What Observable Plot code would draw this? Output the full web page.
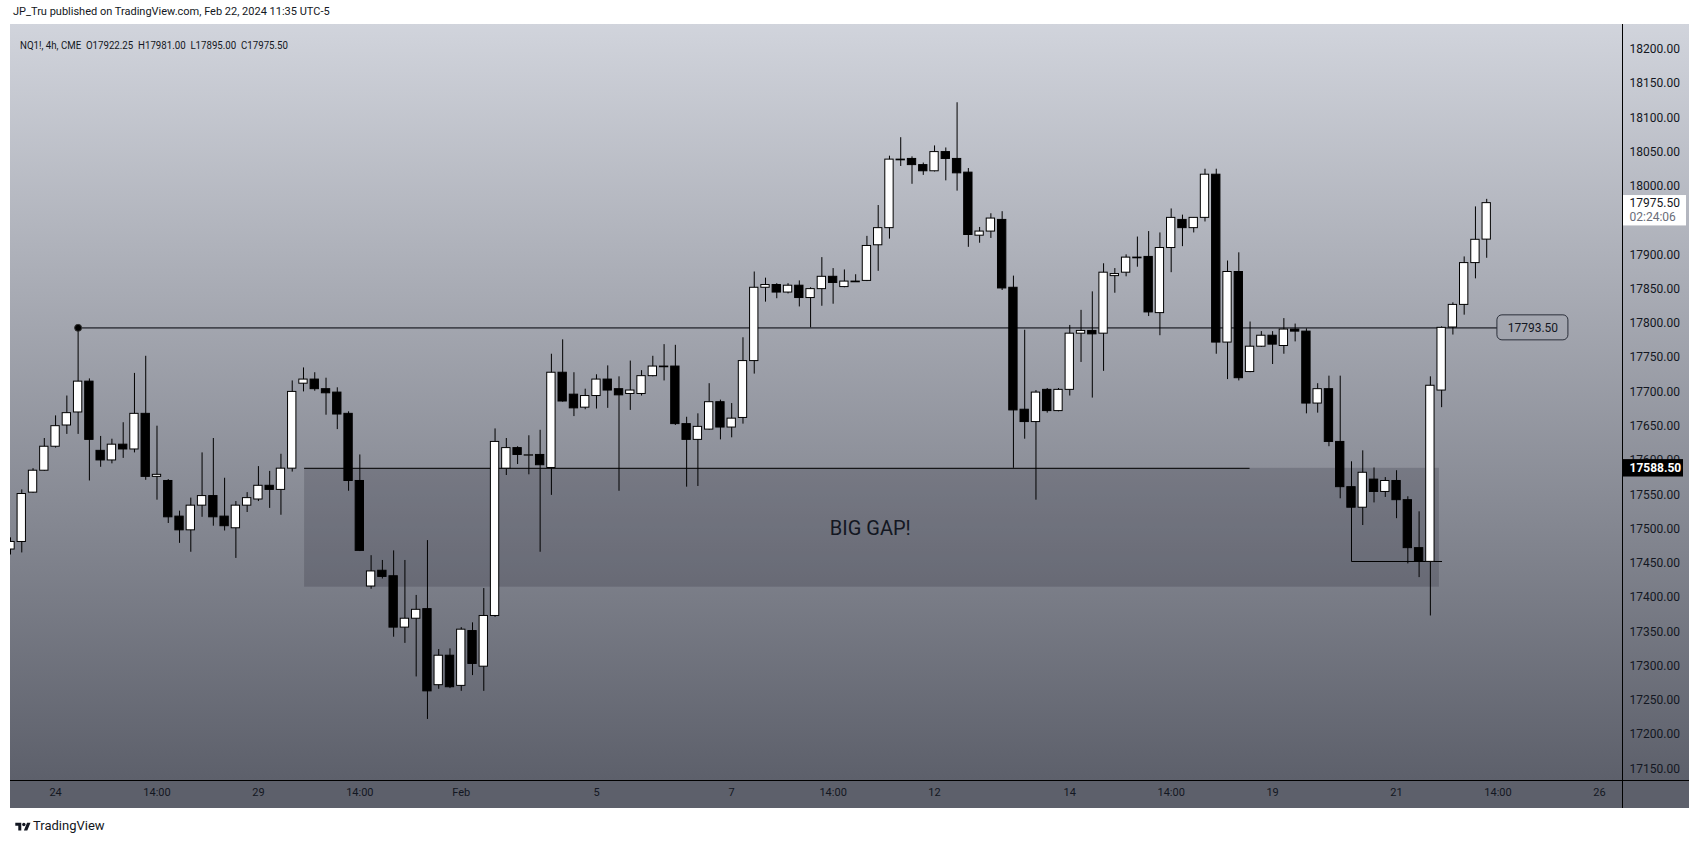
<!DOCTYPE html>
<html><head><meta charset="utf-8">
<script src="https://cdn.jsdelivr.net/npm/d3@7"></script>
<script src="https://cdn.jsdelivr.net/npm/@observablehq/plot@0.6"></script>
<style>
html,body{margin:0;padding:0;background:#fff;width:1699px;height:844px;overflow:hidden;font-family:Roboto,"Liberation Sans",sans-serif;}
#top{height:24px;position:relative;}
#top span{position:absolute;left:13px;top:5px;font-size:11px;color:#131722;white-space:nowrap;}
#chart{height:784px;}
#foot{height:36px;position:relative;}
#foot svg{position:absolute;left:15px;top:13px;}
#foot span{position:absolute;left:33px;top:10px;font-size:13px;color:#131722;}
</style></head><body>
<div id="top"><span>JP_Tru published on TradingView.com, Feb 22, 2024 11:35 UTC-5</span></div>
<div id="chart"></div>
<div id="foot"><svg width="16" height="12" viewBox="0 0 36 28"><path d="M14 22H7V11H0V4h14v18zM28 22h-8l7.5-18h8L28 22z" fill="#131722"/><circle cx="20" cy="8" r="4" fill="#131722"/></svg><span>TradingView</span></div>
<script>
// ---- data: 4h candles, NQ1! (index 0 = first visible bar) ----
const opens = [17470,17481,17553,17585,17620,17651,17670,17715,17614,17600,17623,17616,17668,17576,17570,17518,17498,17534,17548,17518,
17501,17534,17543,17563,17557,17588,17712,17718,17704,17699,17668,17570,17416,17439,17431,17356,17369,17383,17272,17315,
17271,17351,17299,17373,17588,17618,17607,17608,17589,17728,17696,17677,17694,17718,17704,17697,17697,17723,17736,17737,
17653,17630,17645,17685,17648,17662,17745,17852,17856,17845,17855,17837,17850,17868,17853,17860,17862,17914,17939,18038,
18040,18031,18022,18050,18040,18020,17928,17934,17951,17852,17674,17656,17703,17672,17703,17785,17789,17785,17869,17874,
17895,17897,17815,17910,17951,17939,17954,18017,17772,17875,17729,17766,17782,17767,17791,17788,17683,17704,17627,17561,
17531,17572,17554,17570,17542,17472,17452,17702,17794,17827,17888,17922.25];
const highs = [17487,17557,17588,17632,17665,17694,17793.5,17719,17635,17631,17655,17727,17752,17650,17572,17526,17545,17611,17632,17574,
17540,17553,17591,17584,17609,17716,17735,17728,17720,17706,17671,17608,17461,17454,17468,17454,17403,17483,17324,17325,
17356,17363,17413,17646,17632,17620,17636,17644,17755,17776,17728,17704,17725,17738,17722,17745,17731,17752,17769,17768,
17663,17668,17712,17688,17683,17779,17875,17866,17858,17858,17862,17852,17896,17880,17878,17871,17927,17972,18044,18071,
18043,18034,18059,18056,18122,18026,17940,17960,17963,17869,17790,17702,17705,17705,17797,17819,17846,17887,17880,17900,
17926,17934,17932,17967,17958,17954,18025,18025,17891,17903,17802,17788,17788,17807,17799,17792,17712,17723,17723,17598,
17614,17589,17575,17585,17547,17525,17722,17795,17830,17897,17970,17981];
const lows = [17462,17465,17552,17584,17618,17638,17638,17570,17590,17595,17603,17611,17571,17542,17508,17479,17466,17517,17504,17497,
17457,17524,17540,17530,17520,17583,17700,17701,17666,17645,17555,17467,17412,17427,17342,17333,17284,17222,17266,17267,
17263,17286,17263,17371,17578,17594,17579,17466,17549,17685,17664,17674,17675,17676,17555,17673,17694,17722,17716,17651,
17561,17562,17644,17630,17633,17653,17726,17831,17836,17843,17824,17793.5,17825,17828,17852,17860,17861,17876,17923,18029,
18003,18016,18021,18008,17993,17911,17917,17924,17848,17588.5,17631,17542,17669,17671,17694,17743,17691,17730,17844,17868,
17882,17810,17782,17874,17912,17932,17948,17755,17718,17716,17728,17765,17740,17755,17773,17668,17669,17620,17544,17530,
17505,17538,17546,17515,17449,17429,17373,17677,17783,17812,17865,17895];
const closes = [17481,17551,17585,17620,17650,17669,17715,17630,17600,17623,17616,17668,17576,17579,17517,17498,17534,17548,17517,17504,
17534,17545,17563,17557,17588,17700,17718,17704,17698,17667,17570,17468,17438,17430,17356,17369,17382,17263,17315,17269,
17353,17303,17373,17627,17618,17608,17607.5,17593,17728,17686,17676,17694,17718,17702,17695,17702,17723,17737,17737,17653,
17630,17649,17685,17648,17661,17745,17852,17856,17845,17855,17837,17850,17868,17859,17861,17861,17913,17939,18039,18039,
18031,18022,18050,18040,18019,17929,17934,17953,17851,17673,17656,17699,17672,17703,17785,17789,17784,17874,17872,17896,
17896,17816,17910,17954,17939,17954,18017,17772,17875,17720,17766,17782,17769,17791,17788,17683,17704,17627,17561,17531,
17582,17554,17570,17542,17472,17452,17709,17793.5,17827,17888,17922,17975.5];

const xTickIndex  = [4, 13, 22, 31, 40, 52, 64, 73, 82, 94, 103, 112, 123, 132, 141];
const xTickLabels = ["24","14:00","29","14:00","Feb","5","7","14:00","12","14","14:00","19","21","14:00","26"];
const yTicks = [17150,17200,17250,17300,17350,17400,17450,17500,17550,17600,17650,17700,17750,17800,17850,17900,17950,18000,18050,18100,18150,18200];

// drawings (bar index / price units)
const resistance = [{price: 17793.5, from: 6, to: 131.95}];
const resistanceLabel = [{from: 131.95, to: 138.25, mid: 135.1, price: 17793.5, text: "17793.50"}];
const gapZone = [{from: 26.1, to: 126.8, low: 17415, high: 17588.5}];
const gapLine = [{price: 17588.5, from: 26.1, to: 110}];
const bracketX = [119, 119, 127];
const bracketY = [17531, 17452.5, 17452.5];
const gapNote = [{x: 76.3, y: 17500, text: "BIG GAP!"}];
const markedPrice = [{price: 17588.5, text: "17588.50"}];
const lastPrice = [{price: 17975.5, text: "17975.50", timer: "02:24:06"}];

// ---- build ----
const candles = opens.map((o, i) => ({i, open: o, high: highs[i], low: lows[i], close: closes[i]}));
const up = candles.filter(d => d.close >= d.open);
const down = candles.filter(d => d.close < d.open);
const last = candles[candles.length - 1];
const header = `NQ1!, 4h, CME\u00a0\u00a0O${last.open.toFixed(2)}\u00a0\u00a0H${last.high.toFixed(2)}\u00a0\u00a0L${last.low.toFixed(2)}\u00a0\u00a0C${last.close.toFixed(2)}`;

const W = 1699, H = 784, mL = 10, mR = 77, mT = 0, mB = 28;
const xDomain = [0, 143.05];
const yDomain = [17132.9, 18236.2];
const ppx = (yDomain[1] - yDomain[0]) / (H - mT - mB);   // price per pixel
const ipx = (xDomain[1] - xDomain[0]) / (W - mL - mR);    // bar index per pixel
const xEnd = xDomain[1];

// like the platform, hide axis ticks covered by the live price label
const shownTicks = yTicks.filter(t => !lastPrice.some(p => t < p.price && p.price - t < 22.8 * ppx + 6 * ppx));

const plot = Plot.plot({
  width: W, height: H,
  marginLeft: mL, marginRight: mR, marginTop: mT, marginBottom: mB,
  x: {domain: xDomain, axis: null},
  y: {domain: yDomain, axis: null},
  style: {background: "transparent", fontFamily: "Roboto, 'Liberation Sans', sans-serif", color: "#131722"},
  marks: [
    Plot.rect(gapZone, {x1: "from", x2: "to", y1: "low", y2: "high", fill: "rgb(30,32,44)", fillOpacity: 0.2}),
    Plot.ruleY(gapLine, {y: "price", x1: "from", x2: "to", stroke: "#000", strokeWidth: 1}),
    Plot.ruleY(resistance, {y: "price", x1: "from", x2: "to", stroke: "#45474f", strokeWidth: 1.7}),
    Plot.line(bracketX.map((x, k) => ({x, y: bracketY[k]})), {x: "x", y: "y", stroke: "#000", strokeWidth: 1}),
    Plot.ruleX(candles, {x: "i", y1: "low", y2: "high", stroke: "#000", strokeWidth: 1, clip: true}),
    Plot.rect(down, {x1: d => d.i - 0.37, x2: d => d.i + 0.37, y1: "open", y2: "close", fill: "#000", stroke: "#000", strokeWidth: 1, clip: true}),
    Plot.rect(up, {x1: d => d.i - 0.37, x2: d => d.i + 0.37, y1: "open", y2: "close", fill: "#fff", stroke: "#000", strokeWidth: 1, clip: true}),
    Plot.dot(resistance, {x: "from", y: "price", r: 3.5, fill: "#000", stroke: "#333", strokeWidth: 1}),
    Plot.text(gapNote, {x: "x", y: "y", text: "text", fontSize: 20, fill: "#131722"}),
    Plot.rect(resistanceLabel, {x1: "from", x2: "to", y1: d => d.price - 12.5 * ppx, y2: d => d.price + 12.5 * ppx, rx: 5, fill: "none", stroke: "#2a2e39", strokeWidth: 1}),
    Plot.text(resistanceLabel, {x: "mid", y: "price", text: "text", fontSize: 12, fill: "#131722"}),
    Plot.text([header], {frameAnchor: "top-left", dx: 9.5, dy: 17, fontSize: 11, fill: "#131722", textAnchor: "start"}),
    Plot.axisY(shownTicks, {anchor: "right", tickSize: 0, tickPadding: 7, tickFormat: d => d.toFixed(2), fontSize: 12, label: null}),
    Plot.text(xTickIndex.map((t, k) => ({i: t, label: xTickLabels[k]})), {x: "i", text: "label", frameAnchor: "bottom", dy: 15, fontSize: 11, fill: "#131722"}),
    Plot.rect(markedPrice, {x1: xEnd, x2: xEnd + 61 * ipx, y1: d => d.price - 8.7 * ppx, y2: d => d.price + 8.7 * ppx, fill: "#000"}),
    Plot.text(markedPrice, {x: xEnd, y: "price", text: "text", dx: 7, textAnchor: "start", fontSize: 12, fontWeight: "bold", fill: "#fff"}),
    Plot.rect(lastPrice, {x1: xEnd, x2: xEnd + 64 * ipx, y1: d => d.price - 22.8 * ppx, y2: d => d.price + 7.6 * ppx, fill: "#fff"}),
    Plot.text(lastPrice, {x: xEnd, y: "price", text: "text", dx: 7, textAnchor: "start", fontSize: 12, fill: "#131722"}),
    Plot.text(lastPrice, {x: xEnd, y: "price", text: "timer", dx: 7, dy: 14, textAnchor: "start", fontSize: 12, fill: "#6a6d78"})
  ]
});

// background (gradient pane, axis strip, separators)
const svg = d3.select(plot);
const bg = svg.insert("g", ":first-child");
const grad = bg.append("defs").append("linearGradient").attr("id", "paneGrad")
  .attr("x1", 0).attr("y1", 0).attr("x2", 0).attr("y2", 1);
grad.append("stop").attr("offset", "0%").attr("stop-color", "#d1d4dc");
grad.append("stop").attr("offset", "100%").attr("stop-color", "#5d606b");
const paneH = H - mT - mB;
bg.append("rect").attr("x", mL).attr("y", mT).attr("width", W - mL - 10).attr("height", paneH).attr("fill", "url(#paneGrad)");
bg.append("rect").attr("x", mL).attr("y", mT + paneH).attr("width", W - mL - 10).attr("height", mB).attr("fill", "#5d606b");
svg.append("line").attr("x1", mL).attr("x2", W - 10).attr("y1", mT + paneH + 0.5).attr("y2", mT + paneH + 0.5).attr("stroke", "#000");
svg.append("line").attr("x1", W - mR + 0.5).attr("x2", W - mR + 0.5).attr("y1", 0).attr("y2", H).attr("stroke", "#000");
// squeeze the legend line to the width it has on the platform
svg.selectAll("text").filter(function () { return this.textContent === header; })
  .attr("textLength", 268).attr("lengthAdjust", "spacingAndGlyphs");

document.getElementById("chart").appendChild(plot);
</script>
</body></html>
